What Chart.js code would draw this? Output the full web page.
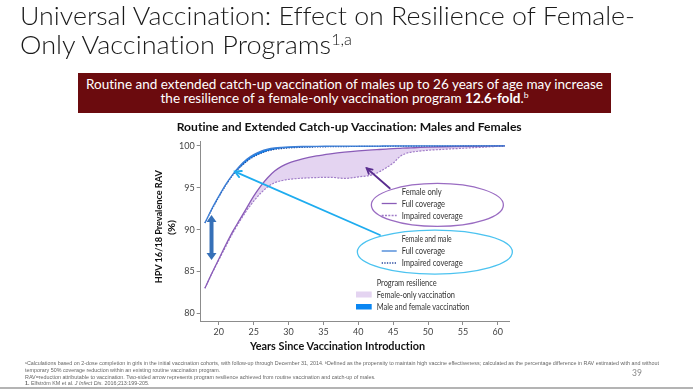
<!DOCTYPE html>
<html>
<head>
<meta charset="utf-8">
<script src="https://cdn.jsdelivr.net/npm/chart.js@4.4.1/dist/chart.umd.min.js"></script>
<style>
  body { margin:0; width:693px; height:391px; overflow:hidden; background:#fff; position:relative; font-family:Lato, "Open Sans", sans-serif; }
  #chart { position:absolute; left:0; top:0; }
  .t { position:absolute; left:0; top:0; white-space:nowrap; transform-origin:0 0; line-height:1.2; font-feature-settings:"liga" 0, "clig" 0, "dlig" 0; }
  .leg { font:400 8.5px Lato; color:#333; }
  .fn { font:400 11px "Liberation Sans", Arial, sans-serif; color:#666; }
  #box { position:absolute; left:78px; top:73px; width:533px; height:40px; background:#6b0b0e; }
  #rule { position:absolute; left:0; top:387px; width:693px; height:2px; background:#b4b4b4; }
</style>
</head>
<body>
<canvas id="chart" width="693" height="391"></canvas>

<div class="t" data-x="20" data-y="25" data-w="615" style="font:300 25px Lato;font-variant-ligatures:none;color:#1a1a1a">Universal Vaccination: Effect on Resilience of Female-</div>
<div class="t" data-x="20" data-y="54" data-w="332" style="font:300 25px Lato;font-variant-ligatures:none;color:#1a1a1a">Only Vaccination Programs<span style="font-size:15px;vertical-align:9px">1,a</span></div>

<div id="box"></div>
<div class="t" data-x="344.5" data-y="89" data-w="517" data-a="c" style="font:400 12.5px Lato;font-variant-ligatures:none;color:#fff">Routine and extended catch-up vaccination of males up to 26 years of age may increase</div>
<div class="t" data-x="344.5" data-y="102.7" data-w="368" data-a="c" style="font:400 12.5px Lato;font-variant-ligatures:none;color:#fff">the resilience of a female-only vaccination program <b>12.6-fold</b>.<span style="font-size:8px;vertical-align:5px">b</span></div>

<div class="t" data-x="349.2" data-y="130.7" data-w="345" data-a="c" style="font:700 10.5px Lato;font-variant-ligatures:none;color:#111">Routine and Extended Catch-up Vaccination: Males and Females</div>
<div class="t" data-x="337.5" data-y="350" data-w="175" data-a="c" style="font:700 10.5px Lato;font-variant-ligatures:none;color:#111">Years Since Vaccination Introduction</div>
<div class="t rot" data-x="161.7" data-y="226.7" data-w="113" style="font:700 10px Lato;font-variant-ligatures:none;color:#111">HPV 16/18 Prevalence RAV</div>
<div class="t rot" data-x="174.5" data-y="227.5" data-w="15" style="font:700 10px Lato;color:#111">(%)</div>

<div class="t leg" data-x="401.7" data-y="194.5" data-w="40">Female only</div>
<div class="t leg" data-x="401.7" data-y="206.5" data-w="43.3">Full coverage</div>
<div class="t leg" data-x="401.7" data-y="218.5" data-w="61">Impaired coverage</div>
<div class="t leg" data-x="401.7" data-y="242" data-w="50">Female and male</div>
<div class="t leg" data-x="401.7" data-y="254" data-w="43.3">Full coverage</div>
<div class="t leg" data-x="401.7" data-y="266" data-w="61">Impaired coverage</div>
<div class="t leg" data-x="376.7" data-y="286.3" data-w="60">Program resilience</div>
<div class="t leg" data-x="376.7" data-y="297.7" data-w="78.3">Female-only vaccination</div>
<div class="t leg" data-x="376.7" data-y="310" data-w="92.7">Male and female vaccination</div>

<div class="t fn" id="fn1" data-x="25" data-y="365.2"><span style="font-size:7px;vertical-align:3px">a</span>Calculations based on 2-dose completion in girls in the initial vaccination cohorts, with follow-up through December 31, 2014. <span style="font-size:7px;vertical-align:3px">b</span>Defined as the propensity to maintain high vaccine effectiveness; calculated as the percentage difference in RAV estimated with and without</div>
<div class="t fn" data-x="25" data-y="372.3">temporary 50% coverage reduction within an existing routine vaccination program.</div>
<div class="t fn" data-x="25" data-y="378.5">RAV=reduction attributable to vaccination. Two-sided arrow represents program resilience achieved from routine vaccination and catch-up of males.</div>
<div class="t fn" data-x="25" data-y="384.5"><b>1.</b> Elfström KM et al. <i>J Infect Dis.</i> 2016;213:199-205.</div>
<div class="t" data-x="632" data-y="375.5" style="font:400 8.5px Lato;color:#888">39</div>
<div id="rule"></div>

<script>
// years since vaccination introduction
const years = [18, 19, 20, 21, 22, 23, 24, 25, 26, 27, 28, 29, 30, 32, 34, 36, 38, 40, 42, 43, 44, 45, 46, 47, 48, 50, 52, 55, 58, 61];
// HPV 16/18 prevalence RAV (%)
const femaleMaleFull     = [90.8, 92.5, 94.0, 95.4, 96.6, 97.6, 98.4, 98.95, 99.35, 99.6, 99.75, 99.83, 99.88, 99.93, 99.95, 99.96, 99.97, 99.98, 99.98, 99.98, 99.99, 99.99, 99.99, 99.99, 99.99, 100, 100, 100, 100, 100];
const femaleMaleImpaired = [90.8, 92.4, 93.9, 95.3, 96.5, 97.4, 98.15, 98.7, 99.1, 99.4, 99.58, 99.68, 99.75, 99.83, 99.87, 99.9, 99.92, 99.93, 99.94, 99.95, 99.95, 99.96, 99.96, 99.97, 99.97, 99.98, 99.98, 99.99, 99.99, 100];
const femaleOnlyFull     = [83.0, 84.8, 86.5, 88.2, 89.8, 91.2, 92.6, 94.0, 95.2, 96.2, 97.0, 97.55, 97.95, 98.45, 98.8, 99.05, 99.25, 99.4, 99.52, 99.57, 99.62, 99.67, 99.71, 99.75, 99.78, 99.85, 99.9, 99.95, 99.98, 100];
const femaleOnlyImpaired = [83.0, 84.75, 86.4, 88.0, 89.6, 91.0, 92.3, 93.4, 94.35, 95.1, 95.6, 95.85, 96.0, 96.15, 96.22, 96.25, 96.12, 96.3, 96.55, 96.9, 97.4, 97.95, 98.75, 99.15, 99.3, 99.48, 99.58, 99.72, 99.85, 100];
const xTicks = [20, 25, 30, 35, 40, 45, 50, 55, 60];
const yTicks = [80, 85, 90, 95, 100];

function pts(arr){ return years.map(function(x, i){ return {x: x, y: arr[i]}; }); }

// arrows, ellipses and the legend drawn over the plot
function arrowHead(ctx, x1, y1, x2, y2, len, ang){
  const a = Math.atan2(y2 - y1, x2 - x1);
  ctx.beginPath();
  ctx.moveTo(x2 - len*Math.cos(a - ang), y2 - len*Math.sin(a - ang));
  ctx.lineTo(x2, y2);
  ctx.lineTo(x2 - len*Math.cos(a + ang), y2 - len*Math.sin(a + ang));
  ctx.stroke();
}
const annotate = {
  id: 'annotate',
  afterDatasetsDraw(chart){
    const ctx = chart.ctx, sx = chart.scales.x, sy = chart.scales.y;
    const px = v => sx.getPixelForValue(v), py = v => sy.getPixelForValue(v);
    ctx.save();
    ctx.lineCap = 'round';

    // two-sided resilience arrow
    const ax = px(18.95), at = py(91.75), ab = py(86.37);
    ctx.strokeStyle = '#3670b8'; ctx.fillStyle = '#3670b8';
    ctx.lineWidth = 4; ctx.lineCap = 'butt';
    ctx.beginPath(); ctx.moveTo(ax, at + 6); ctx.lineTo(ax, ab - 6); ctx.stroke();
    ctx.beginPath(); ctx.moveTo(ax, at); ctx.lineTo(ax - 5, at + 7); ctx.lineTo(ax + 5, at + 7); ctx.closePath(); ctx.fill();
    ctx.beginPath(); ctx.moveTo(ax, ab); ctx.lineTo(ax - 5, ab - 7); ctx.lineTo(ax + 5, ab - 7); ctx.closePath(); ctx.fill();
    ctx.lineCap = 'round';

    // light blue pointer
    let x1 = px(43.1), y1 = py(89.36), x2 = px(22.3), y2 = py(96.93);
    ctx.strokeStyle = '#1eacef'; ctx.lineWidth = 1.8;
    ctx.beginPath(); ctx.moveTo(x1, y1); ctx.lineTo(x2, y2); ctx.stroke();
    arrowHead(ctx, x1, y1, x2, y2, 7, 0.5);

    // purple pointer
    x1 = px(44.5); y1 = py(94.94); x2 = px(41.2); y2 = py(97.33);
    ctx.strokeStyle = '#5a2d90'; ctx.lineWidth = 1.8;
    ctx.beginPath(); ctx.moveTo(x1, y1); ctx.lineTo(x2, y2); ctx.stroke();
    arrowHead(ctx, x1, y1, x2, y2, 6, 0.5);

    // ellipses
    const pcx = px(51.33), pcy = py(92.95);
    ctx.strokeStyle = '#9a6cc2'; ctx.lineWidth = 1.3;
    ctx.beginPath(); ctx.ellipse(pcx, pcy, 66, 21.5, 0, 0, Math.PI*2); ctx.stroke();
    const bcx = px(50.97), bcy = py(87.33);
    ctx.strokeStyle = '#4cc3f0'; ctx.lineWidth = 1.3;
    ctx.beginPath(); ctx.ellipse(bcx, bcy, 77.5, 22, 0, 0, Math.PI*2); ctx.stroke();

    // legend line samples
    ctx.lineCap = 'butt'; ctx.lineWidth = 1.3;
    ctx.strokeStyle = '#8a5cb8'; ctx.setLineDash([]);
    ctx.beginPath(); ctx.moveTo(381.7, 203.5); ctx.lineTo(396.7, 203.5); ctx.stroke();
    ctx.strokeStyle = '#a07cc8'; ctx.setLineDash([2, 1.3]);
    ctx.beginPath(); ctx.moveTo(381.7, 215.5); ctx.lineTo(396.7, 215.5); ctx.stroke();
    ctx.strokeStyle = '#3d7fd6'; ctx.setLineDash([]);
    ctx.beginPath(); ctx.moveTo(381.7, 251); ctx.lineTo(396.7, 251); ctx.stroke();
    ctx.strokeStyle = '#27489e'; ctx.setLineDash([1.3, 1.3]);
    ctx.beginPath(); ctx.moveTo(381.7, 263); ctx.lineTo(396.7, 263); ctx.stroke();
    ctx.setLineDash([]);
    ctx.fillStyle = '#e4d4f1'; ctx.fillRect(356, 291.5, 15.7, 6);
    ctx.fillStyle = '#0a86f2'; ctx.fillRect(356, 304, 15.7, 5.5);
    ctx.restore();
  }
};

new Chart(document.getElementById('chart'), {
  type: 'line',
  data: {
    datasets: [
      { label: 'Female and male, full coverage', data: pts(femaleMaleFull), borderColor: '#3d7fd6', borderWidth: 1.3,
        fill: '+1', backgroundColor: '#0a86f2' },
      { label: 'Female and male, impaired coverage', data: pts(femaleMaleImpaired), borderColor: '#27489e', borderWidth: 1.2,
        borderDash: [1.3, 1.3], fill: false },
      { label: 'Female only, full coverage', data: pts(femaleOnlyFull), borderColor: '#8a5cb8', borderWidth: 1.3,
        fill: '+1', backgroundColor: '#e4d4f1' },
      { label: 'Female only, impaired coverage', data: pts(femaleOnlyImpaired), borderColor: '#a07cc8', borderWidth: 1.2,
        borderDash: [2, 1.3], fill: false }
    ]
  },
  options: {
    responsive: false,
    animation: false,
    devicePixelRatio: 1,
    layout: { padding: { left: 170.7, right: 184, top: 141.7, bottom: 50 } },
    elements: { point: { radius: 0 }, line: { cubicInterpolationMode: 'monotone' } },
    plugins: { legend: { display: false }, tooltip: { enabled: false }, filler: { drawTime: 'beforeDatasetsDraw' } },
    scales: {
      x: {
        type: 'linear', min: 17.4, max: 61.6,
        afterBuildTicks: s => { s.ticks = xTicks.map(v => ({ value: v })); },
        afterFit: s => { s.height = 20; },
        grid: { drawOnChartArea: false, tickLength: 4, color: '#8c8c8c' },
        border: { color: '#8c8c8c' },
        ticks: { font: { family: 'Lato', size: 9 }, color: '#444', padding: 2, maxRotation: 0 }
      },
      y: {
        type: 'linear', min: 79.1, max: 100.5,
        afterBuildTicks: s => { s.ticks = yTicks.map(v => ({ value: v })); },
        afterFit: s => { s.width = 30; },
        grid: { drawOnChartArea: false, tickLength: 4, color: '#8c8c8c' },
        border: { color: '#8c8c8c' },
        ticks: { font: { family: 'Lato', size: 9 }, color: '#444', padding: 2 }
      }
    }
  },
  plugins: [annotate]
});

// place html text by baseline and fit to measured widths
function baseOf(el){
  const m = document.createElement('span');
  m.style.cssText = 'display:inline-block;width:0;height:0;';
  el.appendChild(m);
  const b = m.offsetTop;
  el.removeChild(m);
  return b;
}
let fnScale = 1;
document.querySelectorAll('.t').forEach(function(el){
  const x = +el.dataset.x, y = +el.dataset.y, w = +el.dataset.w || 0;
  const base = baseOf(el), nat = el.getBoundingClientRect().width;
  if (el.classList.contains('rot')) {
    const s = w ? w / nat : 1;
    el.style.transform = 'translate(' + (x - base) + 'px,' + (y + nat*s/2) + 'px) rotate(-90deg) scaleX(' + s + ')';
    return;
  }
  if (el.classList.contains('fn')) {
    if (el.id === 'fn1') fnScale = 634 / nat;
    el.style.transform = 'translate(' + x + 'px,' + (y - base*0.5) + 'px) scale(' + fnScale + ',0.5)';
    return;
  }
  const s = w ? w / nat : 1;
  const left = el.dataset.a === 'c' ? x - nat*s/2 : x;
  el.style.transform = 'translate(' + left + 'px,' + (y - base) + 'px) scaleX(' + s + ')';
});
</script>
</body>
</html>
